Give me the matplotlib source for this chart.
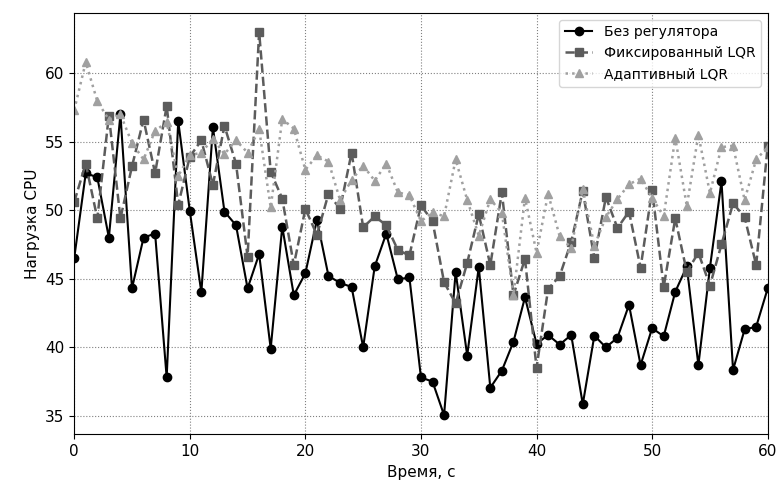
import numpy as np
from matplotlib import pyplot as plt

t = np.arange(0, 61)

no_ctrl = [46.5, 52.7, 52.4, 48.0, 57.0, 44.3, 48.0, 48.3, 37.8, 56.5,
           49.95, 44.0, 56.05, 49.9, 48.9, 44.3, 46.8, 39.9, 48.8, 43.8,
           45.4, 49.3, 45.2, 44.7, 44.4, 40.0, 45.9, 48.3, 44.95, 45.1,
           37.8, 37.5, 35.05, 45.5, 39.4, 45.85, 37.05, 38.3, 40.4, 43.65,
           40.25, 40.9, 40.2, 40.9, 35.85, 40.85, 40.0, 40.7, 43.1, 38.7,
           41.4, 40.8, 44.05, 45.9, 38.7, 45.8, 52.1, 38.35, 41.3, 41.5,
           44.3]

fixed_lqr = [50.6, 53.4, 49.4, 56.9, 49.4, 53.2, 56.6, 52.7, 57.6, 50.4,
             53.9, 55.1, 51.85, 56.15, 53.4, 46.6, 63.0, 52.8, 50.85, 46.0,
             50.1, 48.2, 51.2, 50.1, 54.2, 48.75, 49.55, 48.9, 47.1, 46.7,
             50.35, 49.2, 44.75, 43.2, 46.15, 49.7, 46.0, 51.3, 43.8, 46.45,
             38.5, 44.25, 45.2, 47.7, 51.4, 46.5, 50.95, 48.7, 49.9, 45.8,
             51.5, 44.4, 49.4, 45.5, 46.9, 44.5, 47.5, 50.5, 49.5, 46.0,
             54.7]

adapt_lqr = [57.3, 60.8, 57.95, 56.6, 57.0, 54.9, 53.7, 55.8, 56.4, 52.5,
             54.0, 54.2, 55.2, 54.1, 55.1, 54.2, 55.9, 50.2, 56.65, 55.95,
             52.95, 54.0, 53.55, 50.75, 52.2, 53.25, 52.15, 53.4, 51.3, 51.1,
             49.2, 49.85, 49.55, 53.7, 50.75, 48.15, 50.8, 49.8, 43.8, 50.9,
             46.9, 51.2, 48.1, 47.25, 51.55, 47.4, 49.5, 50.8, 51.9, 52.3,
             50.9, 49.55, 55.3, 50.3, 55.5, 51.25, 54.6, 54.7, 50.75, 53.7,
             54.6]

fig = plt.figure(figsize=(7.81, 4.93), dpi=100)
ax = fig.add_subplot(111)
fig.subplots_adjust(left=0.095, right=0.983, top=0.974, bottom=0.119)

ax.plot(t, no_ctrl, color='black', linestyle='-', marker='o',
        linewidth=1.5, markersize=6, label='Без регулятора')
ax.plot(t, fixed_lqr, color='#5c5c5c', linestyle='--', marker='s',
        linewidth=1.8, markersize=6, label='Фиксированный LQR')
ax.plot(t, adapt_lqr, color='#a0a0a0', linestyle=':', marker='^',
        linewidth=1.8, markersize=6, label='Адаптивный LQR')

ax.set_xlim(0, 60)
ax.set_xlabel('Время, с', fontsize=11)
ax.set_ylabel('Нагрузка CPU', fontsize=11)
ax.tick_params(axis='both', which='major', labelsize=11)
ax.grid(True, linestyle=':', color='gray', linewidth=0.8)
ax.legend(loc='upper right', fontsize=10)

plt.savefig('out.png', dpi=100)
